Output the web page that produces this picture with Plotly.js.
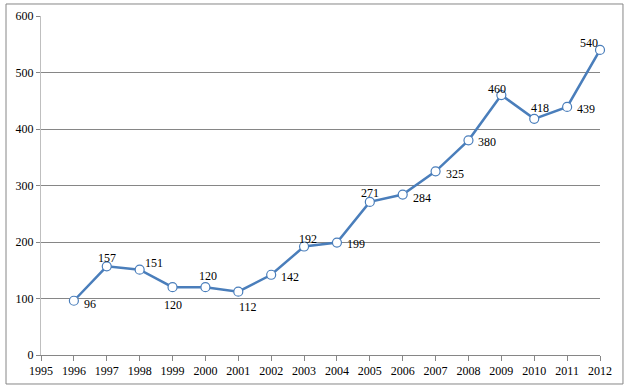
<!DOCTYPE html>
<html><head><meta charset="utf-8">
<script src="https://cdn.plot.ly/plotly-3.0.1.min.js"></script>
<style>html,body{margin:0;padding:0;background:#fff}#c{width:629px;height:389px}</style>
</head><body><div id="c"></div>
<script>
const years = [1996,1997,1998,1999,2000,2001,2002,2003,2004,2005,2006,2007,2008,2009,2010,2011,2012];
const values = [96,157,151,120,120,112,142,192,199,271,284,325,380,460,418,439,540];
// label offsets in pixels from each marker (style only)
const labelDx = [16,0,14,0,3,10,19,4,19,0,19,19,19,-4,6,19,-11];
const labelDy = [3,-8,-7,18,-11,15,2,-8,1,-9,3,3,2,-6,-11,2,-7];

const font = '"Liberation Serif"';
const trace = {
  x: years, y: values, type: 'scatter', mode: 'lines+markers',
  line: {color: '#4A7EBB', width: 2.5},
  marker: {symbol: 'circle', size: 9, color: '#fff', line: {color: '#4A7EBB', width: 1.2}},
  cliponaxis: false, hoverinfo: 'none'
};
const annotations = years.map((yr, i) => ({
  x: yr, y: values[i], xref: 'x', yref: 'y', text: String(values[i]), showarrow: false,
  xshift: labelDx[i], yshift: -labelDy[i], xanchor: 'center', yanchor: 'middle',
  font: {family: font, size: 12, color: '#000'}
}));
const layout = {
  width: 629, height: 389,
  margin: {l: 41, r: 29, t: 16, b: 34},
  paper_bgcolor: '#fff', plot_bgcolor: '#fff',
  showlegend: false,
  font: {family: font, size: 12, color: '#000'},
  xaxis: {range: [1995, 2012], dtick: 1, tick0: 1995, showgrid: false, zeroline: false,
    showline: true, linecolor: '#868686', linewidth: 1, ticks: 'outside', ticklen: 5, tickcolor: '#868686',
    tickfont: {family: font, size: 12}, fixedrange: true},
  yaxis: {range: [0, 600], dtick: 100, showgrid: true, gridcolor: '#868686', gridwidth: 1, zeroline: false,
    showline: true, linecolor: '#bfbfbf', linewidth: 1, ticks: 'outside', ticklen: 4, tickcolor: '#868686',
    tickfont: {family: font, size: 12}, fixedrange: true},
  annotations: annotations,
  shapes: [{type: 'rect', xref: 'paper', yref: 'paper', x0: -0.0626, x1: 1.0411, y0: -0.0855, y1: 1.0354,
    line: {color: '#868686', width: 1}, fillcolor: 'rgba(0,0,0,0)', layer: 'below'}]
};
Plotly.newPlot('c', [trace], layout, {staticPlot: true, displayModeBar: false});
</script></body></html>
